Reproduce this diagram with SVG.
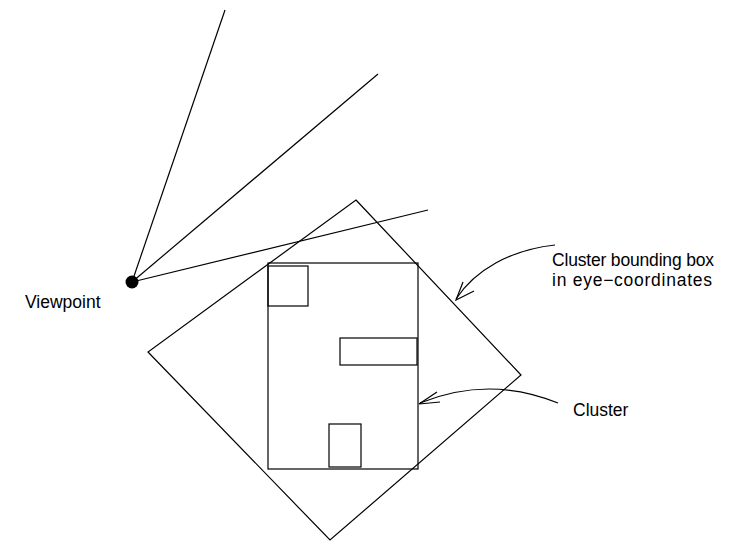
<svg xmlns="http://www.w3.org/2000/svg" width="735" height="543" viewBox="0 0 735 543">
  <style>
    .ln { fill: none; stroke: #000; stroke-width: 1.2; }
    .lbl { font-family: "Liberation Sans", Arial, sans-serif; font-size: 17.5px; fill: #000; }
  </style>
  <rect width="735" height="543" fill="#fff"/>

  <!-- view frustum rays -->
  <g id="rays" class="ln">
    <line x1="132" y1="282" x2="225" y2="10"/>
    <line x1="132" y1="282" x2="378" y2="74"/>
    <line x1="132" y1="282" x2="428" y2="210"/>
  </g>

  <g id="viewpoint">
    <circle cx="132" cy="282" r="6.5" fill="#000"/>
    <text class="lbl" x="25" y="308">Viewpoint</text>
  </g>

  <!-- rotated bounding box in eye coordinates -->
  <g id="eye-bbox">
    <polygon class="ln" points="356,200 521,375 330,540 148,352"/>
  </g>

  <!-- cluster and its members -->
  <g id="cluster">
    <rect class="ln" x="268" y="263" width="150" height="206"/>
    <rect class="ln" x="268" y="266" width="40" height="40"/>
    <rect class="ln" x="340" y="338" width="77" height="27"/>
    <rect class="ln" x="329" y="424" width="32" height="43"/>
  </g>

  <g id="label-bbox">
    <text class="lbl" x="552" y="266" textLength="162">Cluster bounding box</text>
    <text class="lbl" x="552" y="286" textLength="160">in eye−coordinates</text>
  </g>
  <g id="label-cluster">
    <text class="lbl" x="573" y="416">Cluster</text>
  </g>

  <!-- callout arrows -->
  <g id="connectors" class="ln">
    <path d="M555,245 C510,250 475,270 456,299"/>
    <path d="M463,282 L456,300 L474,291"/>
    <path d="M558,403 Q489,375 420,403"/>
    <path d="M437,392 L419,404 L440,402"/>
  </g>
</svg>
